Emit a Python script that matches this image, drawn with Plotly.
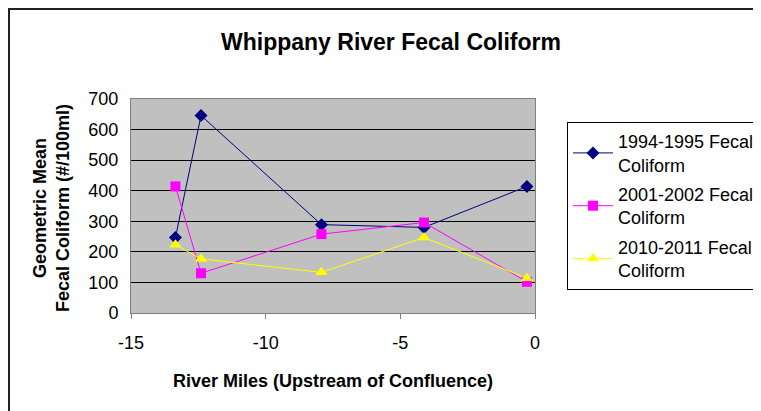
import plotly.graph_objects as go

river_miles = [-13.35, -12.4, -7.93, -4.12, -0.3]
fc_1994_1995 = [247, 646, 289, 280, 414]
fc_2001_2002 = [414, 130, 258, 296, 102]
fc_2010_2011 = [223, 177, 133, 247, 114]

series_names = ["1994-1995 Fecal<br>Coliform", "2001-2002 Fecal<br>Coliform", "2010-2011 Fecal<br>Coliform"]
x_ticks = [-15, -10, -5, 0]
x_tick_text = ["-15", "-10", "-5", "0"]
y_ticks = [0, 100, 200, 300, 400, 500, 600, 700]

FONT = "Liberation Sans, Arial, sans-serif"

fig = go.Figure()
fig.add_trace(go.Scatter(x=river_miles, y=fc_1994_1995, mode="lines+markers", name=series_names[0],
                         line=dict(color="#000080", width=1),
                         marker=dict(symbol="diamond", size=10, color="#000080"), legendgroup="a"))
fig.add_trace(go.Scatter(x=river_miles, y=fc_2001_2002, mode="lines+markers", name=series_names[1],
                         line=dict(color="#FF00FF", width=1),
                         marker=dict(symbol="square", size=10, color="#FF00FF"), legendgroup="b"))
fig.add_trace(go.Scatter(x=river_miles, y=fc_2010_2011, mode="lines+markers", name=series_names[2],
                         line=dict(color="#FFFF00", width=1),
                         marker=dict(symbol="triangle-up", size=11, color="#FFFF00"), legendgroup="c"))

OFF = 8  # page body margin
W, H = 800, 411 - OFF
# target plot area in window pixels
PL, PR, PT, PB = 131, 535, 99, 313
L, T = PL - OFF, PT - OFF
R, B = W - (PR - OFF), H - (PB - OFF)
pw, ph = PR - PL, PB - PT

def px_x(p):
    return (p - PL) / pw

def px_y(p):
    return (PB - p) / ph

fig.update_layout(
    width=W, height=H,
    margin=dict(l=L, r=R, t=T, b=B),
    paper_bgcolor="white",
    plot_bgcolor="#C0C0C0",
    font=dict(family=FONT, size=18, color="black"),
    showlegend=True,
    legend=dict(x=px_x(567), y=px_y(122), xanchor="left", yanchor="top",
                bordercolor="black", borderwidth=1, bgcolor="white",
                font=dict(size=18), tracegroupgap=3, itemwidth=40),
    annotations=[
        dict(text="<b>Whippany River Fecal Coliform</b>", x=px_x(391), y=px_y(42),
             xref="paper", yref="paper", showarrow=False, xanchor="center", yanchor="middle",
             font=dict(size=23)),
        dict(text="<b>River Miles (Upstream of Confluence)</b>", x=px_x(333), y=px_y(381),
             xref="paper", yref="paper", showarrow=False, xanchor="center", yanchor="middle",
             font=dict(size=18)),
        dict(text="<b>Geometric Mean<br>Fecal Coliform (#/100ml)</b>", x=px_x(51), y=px_y(208),
             xref="paper", yref="paper", showarrow=False, textangle=-90, xanchor="center",
             yanchor="middle", font=dict(size=18)),
    ],
    shapes=[
        dict(type="rect", xref="paper", yref="paper", x0=px_x(OFF + 1), x1=px_x(950),
             y0=px_y(OFF + 1), y1=px_y(450), line=dict(color="#222222", width=2), layer="below"),
    ],
)
fig.update_xaxes(range=[-15, 0], tickvals=x_ticks, ticktext=x_tick_text, ticks="outside", ticklen=5,
                 tickcolor="#808080", showgrid=False, zeroline=False, showline=True, linecolor="#808080",
                 linewidth=1, mirror=True, tickfont=dict(size=18), ticklabelstandoff=8)
fig.update_yaxes(range=[0, 700], tickvals=y_ticks, ticks="", showgrid=True, gridcolor="black", gridwidth=1,
                 zeroline=False, showline=True, linecolor="#808080", linewidth=1, mirror=True,
                 tickfont=dict(size=18), ticklabelstandoff=8)

fig.write_html("out.html")
